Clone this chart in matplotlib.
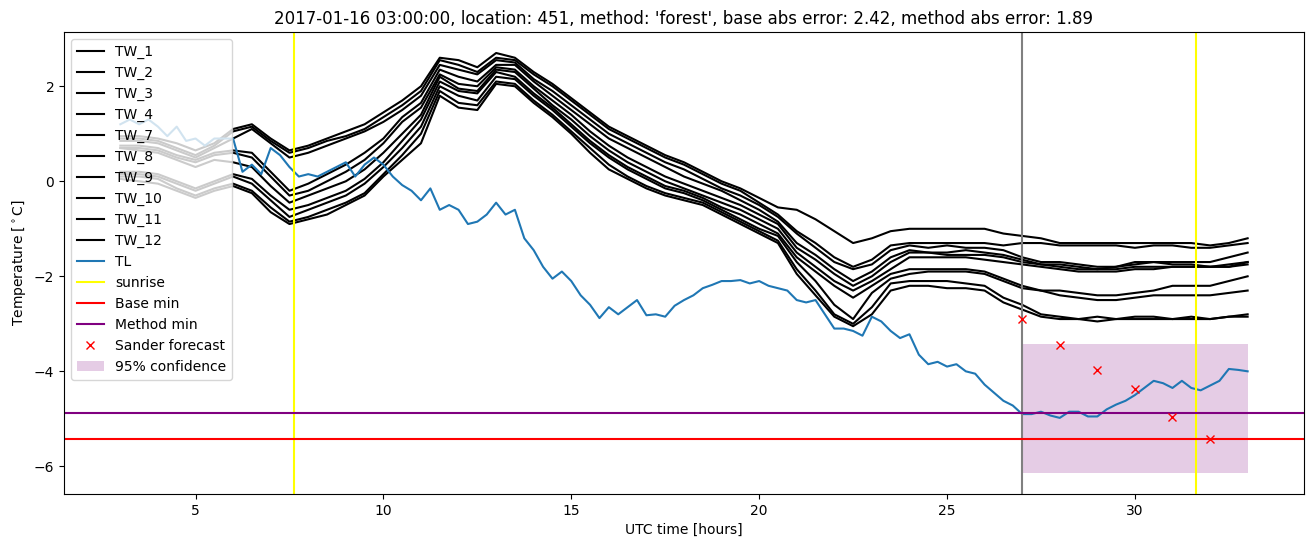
import numpy as np
import matplotlib
matplotlib.use("Agg")
import matplotlib.pyplot as plt

# ---- data ----
tw_times = np.arange(3.0, 33.001, 0.5)
tl_times = np.arange(3.0, 33.001, 0.25)

tw_names = ["TW_1", "TW_2", "TW_3", "TW_4", "TW_7", "TW_8", "TW_9", "TW_10", "TW_11", "TW_12"]

tw_1 = [0.95, 0.95, 0.9, 0.8, 0.65, 0.8, 1.1, 1.2, 0.9, 0.65,
        0.75, 0.9, 1.05, 1.2, 1.45, 1.7, 2.0, 2.6, 2.55, 2.4,
        2.7, 2.6, 2.3, 2.05, 1.75, 1.45, 1.15, 0.95, 0.75, 0.55,
        0.4, 0.2, 0.0, -0.15, -0.35, -0.55, -0.6, -0.8, -1.05, -1.3,
        -1.2, -1.05, -1.0, -1.0, -1.0, -1.0, -1.0, -1.1, -1.15, -1.2,
        -1.3, -1.3, -1.3, -1.3, -1.3, -1.3, -1.3, -1.3, -1.35, -1.3,
        -1.2]
tw_2 = [0.9, 0.9, 0.85, 0.7, 0.55, 0.75, 1.05, 1.15, 0.85, 0.6,
        0.7, 0.85, 0.95, 1.1, 1.35, 1.6, 1.9, 2.55, 2.45, 2.3,
        2.6, 2.55, 2.25, 2.0, 1.7, 1.4, 1.1, 0.9, 0.7, 0.5,
        0.35, 0.15, -0.05, -0.2, -0.45, -0.7, -1.05, -1.3, -1.6, -1.8,
        -1.65, -1.35, -1.3, -1.3, -1.3, -1.3, -1.3, -1.35, -1.3, -1.3,
        -1.35, -1.35, -1.35, -1.35, -1.4, -1.35, -1.35, -1.4, -1.4, -1.35,
        -1.3]
tw_3 = [0.85, 0.85, 0.8, 0.65, 0.5, 0.7, 0.9, 1.1, 0.8, 0.5,
        0.6, 0.75, 0.9, 1.05, 1.25, 1.5, 1.8, 2.45, 2.35, 2.25,
        2.55, 2.5, 2.15, 1.9, 1.6, 1.3, 1.0, 0.8, 0.6, 0.4,
        0.25, 0.05, -0.15, -0.3, -0.5, -0.75, -1.1, -1.4, -1.7, -1.85,
        -1.75, -1.45, -1.35, -1.4, -1.35, -1.4, -1.4, -1.45, -1.6, -1.7,
        -1.7, -1.75, -1.8, -1.8, -1.7, -1.7, -1.7, -1.7, -1.7, -1.6,
        -1.5]
tw_4 = [0.75, 0.75, 0.7, 0.55, 0.45, 0.6, 0.65, 0.6, 0.2, -0.2,
        -0.05, 0.15, 0.35, 0.6, 0.9, 1.35, 1.65, 2.35, 2.2, 2.1,
        2.45, 2.45, 2.1, 1.8, 1.5, 1.2, 0.9, 0.7, 0.5, 0.3,
        0.1, -0.05, -0.2, -0.4, -0.6, -0.85, -1.3, -1.55, -1.85, -2.1,
        -1.9, -1.6, -1.45, -1.5, -1.5, -1.45, -1.5, -1.55, -1.65, -1.75,
        -1.75, -1.8, -1.85, -1.8, -1.75, -1.7, -1.75, -1.75, -1.8, -1.75,
        -1.7]
tw_7 = [0.7, 0.7, 0.65, 0.5, 0.4, 0.55, 0.6, 0.5, 0.1, -0.3,
        -0.2, 0.0, 0.2, 0.45, 0.8, 1.25, 1.55, 2.25, 2.05, 2.0,
        2.4, 2.35, 2.0, 1.7, 1.4, 1.05, 0.75, 0.5, 0.3, 0.1,
        -0.05, -0.2, -0.35, -0.5, -0.7, -0.9, -1.4, -1.65, -1.95, -2.2,
        -2.0, -1.7, -1.5, -1.5, -1.55, -1.55, -1.55, -1.6, -1.7, -1.75,
        -1.8, -1.85, -1.85, -1.85, -1.8, -1.8, -1.8, -1.8, -1.8, -1.8,
        -1.7]
tw_8 = [0.7, 0.65, 0.6, 0.45, 0.3, 0.45, 0.4, 0.3, -0.1, -0.45,
        -0.3, -0.15, 0.0, 0.25, 0.6, 1.0, 1.4, 2.2, 1.95, 1.9,
        2.35, 2.3, 1.95, 1.6, 1.3, 0.95, 0.65, 0.4, 0.2, 0.0,
        -0.15, -0.3, -0.45, -0.6, -0.8, -1.0, -1.5, -1.8, -2.1, -2.3,
        -2.1, -1.85, -1.6, -1.6, -1.6, -1.6, -1.65, -1.7, -1.75, -1.8,
        -1.85, -1.9, -1.9, -1.9, -1.85, -1.85, -1.8, -1.8, -1.8, -1.8,
        -1.75]
tw_9 = [0.2, 0.2, 0.15, 0.0, -0.15, 0.0, 0.15, 0.05, -0.3, -0.6,
        -0.5, -0.35, -0.2, 0.05, 0.4, 0.85, 1.3, 2.1, 1.9, 1.85,
        2.3, 2.2, 1.85, 1.55, 1.2, 0.85, 0.55, 0.3, 0.1, -0.1,
        -0.2, -0.35, -0.55, -0.7, -0.9, -1.1, -1.6, -1.9, -2.2, -2.45,
        -2.2, -1.95, -1.85, -1.85, -1.85, -1.85, -1.9, -2.05, -2.2, -2.3,
        -2.3, -2.35, -2.4, -2.4, -2.35, -2.3, -2.2, -2.2, -2.2, -2.1,
        -2.0]
tw_10 = [0.15, 0.15, 0.1, -0.05, -0.2, -0.05, 0.1, -0.05, -0.4, -0.75,
         -0.6, -0.45, -0.3, -0.05, 0.3, 0.7, 1.15, 2.0, 1.8, 1.7,
         2.2, 2.15, 1.8, 1.5, 1.15, 0.8, 0.5, 0.25, 0.05, -0.15,
         -0.25, -0.4, -0.6, -0.8, -1.0, -1.15, -1.7, -2.1, -2.6, -2.9,
         -2.35, -2.05, -1.95, -1.9, -1.9, -1.9, -1.95, -2.1, -2.25, -2.3,
         -2.4, -2.45, -2.5, -2.5, -2.45, -2.4, -2.4, -2.4, -2.4, -2.35,
         -2.3]
tw_11 = [0.1, 0.1, 0.05, -0.15, -0.3, -0.15, -0.05, -0.2, -0.55, -0.85,
         -0.75, -0.6, -0.45, -0.25, 0.15, 0.55, 1.0, 1.9, 1.65, 1.6,
         2.1, 2.05, 1.7, 1.4, 1.05, 0.7, 0.35, 0.1, -0.1, -0.25,
         -0.35, -0.45, -0.65, -0.85, -1.05, -1.25, -1.85, -2.3, -2.8, -3.0,
         -2.65, -2.15, -2.1, -2.1, -2.1, -2.15, -2.2, -2.45, -2.6, -2.8,
         -2.85, -2.9, -2.85, -2.9, -2.85, -2.85, -2.9, -2.85, -2.9, -2.85,
         -2.8]
tw_12 = [0.05, 0.0, -0.05, -0.2, -0.35, -0.2, -0.1, -0.25, -0.65, -0.9,
         -0.8, -0.7, -0.5, -0.3, 0.1, 0.45, 0.8, 1.8, 1.55, 1.5,
         2.05, 2.0, 1.65, 1.35, 1.0, 0.6, 0.25, 0.05, -0.15, -0.3,
         -0.4, -0.5, -0.7, -0.9, -1.1, -1.3, -1.95, -2.4, -2.85, -3.05,
         -2.8, -2.3, -2.2, -2.2, -2.25, -2.25, -2.3, -2.55, -2.7, -2.85,
         -2.9, -2.9, -2.95, -2.9, -2.9, -2.9, -2.9, -2.9, -2.9, -2.85,
         -2.85]

tl = [1.2, 1.3, 1.2, 1.3, 1.15, 0.95, 1.15, 0.85, 0.9, 0.75,
      0.9, 0.9, 0.9, 0.2, 0.35, 0.15, 0.7, 0.55, 0.3, 0.1,
      0.15, 0.1, 0.2, 0.3, 0.4, 0.1, 0.35, 0.5, 0.35, 0.1,
      -0.08, -0.2, -0.4, -0.15, -0.6, -0.5, -0.6, -0.9, -0.85, -0.7,
      -0.45, -0.7, -0.6, -1.2, -1.45, -1.8, -2.05, -1.9, -2.1, -2.4,
      -2.6, -2.88, -2.65, -2.8, -2.65, -2.5, -2.82, -2.8, -2.85, -2.62,
      -2.5, -2.4, -2.25, -2.18, -2.1, -2.1, -2.08, -2.15, -2.1, -2.2,
      -2.25, -2.3, -2.5, -2.55, -2.5, -2.8, -3.1, -3.1, -3.15, -3.25,
      -2.85, -2.95, -3.15, -3.3, -3.22, -3.65, -3.85, -3.8, -3.9, -3.85,
      -4.0, -4.05, -4.28, -4.45, -4.62, -4.72, -4.9, -4.9, -4.85, -4.93,
      -4.98, -4.85, -4.85, -4.95, -4.95, -4.8, -4.7, -4.62, -4.5, -4.35,
      -4.2, -4.25, -4.35, -4.2, -4.35, -4.4, -4.3, -4.2, -3.95, -3.97,
      -4.0]

sunrise_times = [7.63, 31.63]
forecast_start = 27.0
base_min = -5.42
method_min = -4.88
sander_times = [27, 28, 29, 30, 31, 32]
sander_values = [-2.9, -3.45, -3.97, -4.37, -4.96, -5.43]
conf_times = [27.0, 33.0]
conf_low = -6.14
conf_high = -3.43

title = ("2017-01-16 03:00:00, location: 451, method: 'forest', "
         "base abs error: 2.42, method abs error: 1.89")

# ---- plot ----
fig = plt.figure(figsize=(13.13, 5.47), dpi=100)
ax = fig.add_axes([64 / 1313, 53 / 547, 1240 / 1313, 462 / 547])

tw_series = [tw_1, tw_2, tw_3, tw_4, tw_7, tw_8, tw_9, tw_10, tw_11, tw_12]
for name, vals in zip(tw_names, tw_series):
    ax.plot(tw_times, vals, color="black", label=name)
ax.plot(tl_times, tl, color="C0", label="TL")

for i, s in enumerate(sunrise_times):
    ax.axvline(s, color="yellow", label="sunrise" if i == 0 else "_nolegend_")
ax.axvline(forecast_start, color="grey")
ax.axhline(base_min, color="red", label="Base min")
ax.axhline(method_min, color="purple", label="Method min")
ax.plot(sander_times, sander_values, "x", color="red", linestyle="none",
        label="Sander forecast")
ax.fill_between(conf_times, [conf_low] * 2, [conf_high] * 2, color="purple",
                alpha=0.2, linewidth=0, label="95% confidence")

ax.set_title(title)
ax.set_xlabel("UTC time [hours]")
ax.set_ylabel(r"Temperature [$^\circ$C]")
ax.legend(loc="upper left")

fig.savefig("out.png", dpi=100)
